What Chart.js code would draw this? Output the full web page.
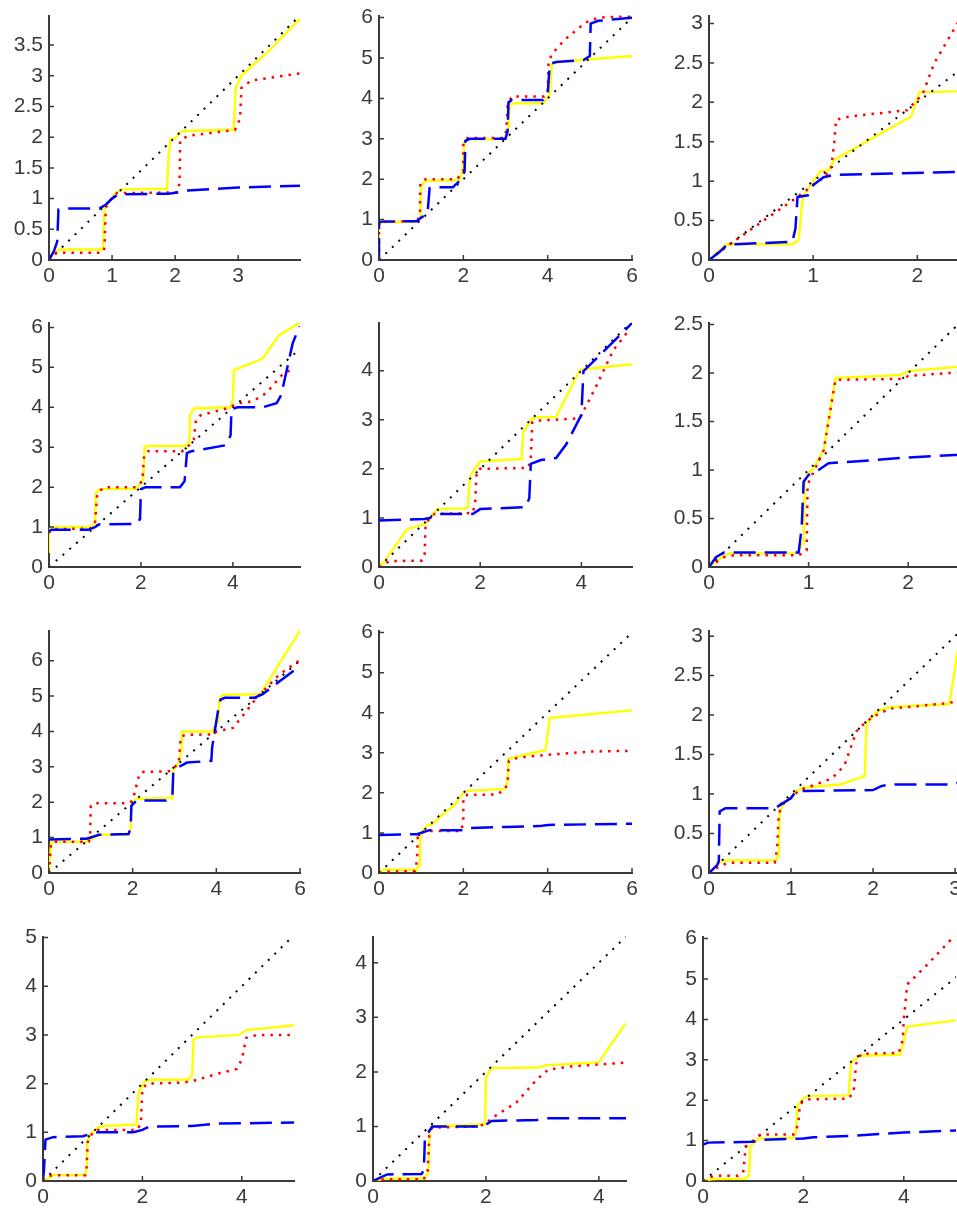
<!DOCTYPE html>
<html>
<head>
<meta charset="utf-8">
<script src="https://cdn.jsdelivr.net/npm/chart.js@4/dist/chart.umd.min.js"></script>
<style>
  html, body { margin: 0; padding: 0; background: #fff; overflow: hidden; width: 957px; height: 1209px; position: relative; }
  canvas { position: absolute; }
</style>
</head>
<body>
<script>
// 4x3 grid of small step curves: yellow solid, red dotted, blue dashed, black dotted y=x

// axis limits and ticks, panel order row by row
const xMax = [3.98, 6, 2.41, 5.46, 5.0, 2.52, 6, 6, 3.06, 5.05, 4.48, 5.04];
const yMax = [3.98, 6.05, 3.1, 6.12, 4.98, 2.52, 6.85, 6.05, 3.07, 5.02, 4.48, 6.05];
const xTicks = [
  [0, 1, 2, 3], [0, 2, 4, 6], [0, 1, 2],
  [0, 2, 4], [0, 2, 4], [0, 1, 2],
  [0, 2, 4, 6], [0, 2, 4, 6], [0, 1, 2, 3],
  [0, 2, 4], [0, 2, 4], [0, 2, 4]
];
const yTicks = [
  [0, 0.5, 1, 1.5, 2, 2.5, 3, 3.5], [0, 1, 2, 3, 4, 5, 6], [0, 0.5, 1, 1.5, 2, 2.5, 3],
  [0, 1, 2, 3, 4, 5, 6], [0, 1, 2, 3, 4], [0, 0.5, 1, 1.5, 2, 2.5],
  [0, 1, 2, 3, 4, 5, 6], [0, 1, 2, 3, 4, 5, 6], [0, 0.5, 1, 1.5, 2, 2.5, 3],
  [0, 1, 2, 3, 4, 5], [0, 1, 2, 3, 4], [0, 1, 2, 3, 4, 5, 6]
];
const diagEnd = [3.98, 6, 3, 5.4, 4.97, 2.55, 6, 6, 3.06, 5.05, 4.48, 5.06];

// panel 1
const p1Yellow = [[0,0],[0.1,0.15],[0.2,0.17],[0.82,0.17],[0.86,0.22],[0.88,0.84],[0.95,0.95],[1.05,1.08],[1.15,1.15],[1.87,1.16],[1.9,1.75],[1.93,1.97],[2.0,1.98],[2.08,2.08],[2.15,2.1],[2.93,2.12],[2.96,2.8],[3.05,3.0],[3.5,3.42],[3.98,3.93]];
const p1Red = [[0,0],[0.08,0.1],[0.15,0.12],[0.85,0.12],[0.88,0.2],[0.9,0.85],[1.0,1.02],[1.08,1.09],[2.03,1.1],[2.07,1.25],[2.08,1.95],[2.2,2.02],[2.95,2.12],[3.03,2.3],[3.05,2.8],[3.2,2.92],[3.98,3.04]];
const p1Blue = [[0,0],[0.08,0.15],[0.13,0.3],[0.15,0.82],[0.25,0.84],[0.8,0.84],[0.9,0.9],[1.0,1.0],[1.1,1.07],[1.9,1.08],[2.2,1.13],[3.0,1.18],[3.98,1.21]];
// panel 2
const p2Yellow = [[0,0],[0,0.85],[0.05,0.93],[0.9,0.95],[0.98,1.05],[1.0,1.85],[1.1,1.96],[1.9,1.98],[1.98,2.2],[2.03,2.95],[2.1,2.98],[3.0,3.0],[3.07,3.2],[3.1,3.85],[3.2,3.88],[3.9,3.88],[4.05,4.1],[4.1,4.85],[4.2,4.9],[5.0,4.97],[6.0,5.05]];
const p2Red = [[0,0],[0,0.9],[0.05,0.95],[0.9,0.96],[0.97,1.1],[0.98,1.9],[1.1,2.0],[1.85,2.0],[2.0,2.2],[2.0,2.9],[2.1,3.02],[2.95,3.02],[3.02,3.2],[3.05,3.85],[3.15,4.05],[3.92,4.05],[4.0,4.15],[4.02,4.9],[4.1,5.1],[4.4,5.45],[4.9,5.88],[5.2,6.0],[6.0,6.05]];
const p2Blue = [[0,0],[0,0.92],[0.05,0.95],[0.9,0.96],[1.0,1.05],[1.15,1.15],[1.17,1.4],[1.2,1.78],[1.3,1.8],[1.75,1.8],[1.95,2.0],[2.03,2.2],[2.05,2.95],[2.15,3.0],[3.0,3.0],[3.05,3.2],[3.07,3.9],[3.15,3.96],[3.9,3.96],[4.0,4.1],[4.05,4.85],[4.2,4.9],[4.85,4.95],[5.0,5.05],[5.02,5.85],[5.2,5.92],[6.0,6.0]];
// panel 3
const p3Yellow = [[0,0],[0.1,0.12],[0.17,0.2],[0.8,0.2],[0.86,0.25],[0.9,0.8],[1.0,1.0],[1.07,1.13],[1.15,1.14],[1.2,1.27],[1.94,1.82],[2.02,2.13],[2.45,2.14]];
const p3Red = [[0,0],[0.2,0.2],[0.85,0.8],[1.0,0.95],[1.1,1.05],[1.17,1.15],[1.2,1.45],[1.22,1.78],[1.35,1.82],[1.9,1.9],[2.05,2.1],[2.16,2.49],[2.42,3.08]];
const p3Blue = [[0,0],[0.1,0.1],[0.17,0.19],[0.25,0.2],[0.8,0.23],[0.83,0.4],[0.85,0.8],[0.95,0.82],[1.0,0.95],[1.1,1.05],[1.2,1.08],[2.45,1.12]];
// panel 4
const p4Yellow = [[0,0.35],[0,0.95],[0.05,1.0],[0.9,1.0],[1.0,1.1],[1.02,1.85],[1.1,1.95],[1.9,1.96],[2.05,2.2],[2.08,3.0],[2.15,3.03],[2.95,3.03],[3.05,3.1],[3.07,3.8],[3.15,3.97],[3.95,4.0],[4.0,4.2],[4.02,4.93],[4.65,5.22],[5.0,5.8],[5.45,6.12]];
const p4Red = [[0,0.85],[0.05,0.95],[0.9,0.96],[1.0,1.1],[1.05,1.85],[1.2,2.0],[1.9,2.0],[2.03,2.15],[2.07,2.8],[2.15,2.9],[2.9,2.9],[3.05,3.05],[3.15,3.2],[3.2,3.7],[3.3,3.8],[3.9,3.98],[4.1,4.1],[4.43,4.15],[4.72,4.35],[5.1,4.85],[5.35,4.98]];
const p4Blue = [[0,0.9],[0.05,0.93],[0.85,0.93],[1.0,1.0],[1.1,1.07],[1.9,1.08],[1.98,1.2],[2.0,1.95],[2.1,2.0],[2.85,2.0],[2.95,2.15],[3.0,2.85],[3.1,2.9],[3.85,3.05],[3.95,3.3],[3.97,3.95],[4.1,4.0],[4.65,4.0],[4.95,4.1],[5.05,4.3],[5.3,5.6],[5.45,6.03]];
// panel 5
const p5Yellow = [[0,0],[0.1,0.1],[0.55,0.77],[0.9,0.87],[1.15,1.18],[1.75,1.2],[1.8,1.85],[1.85,1.93],[2.0,2.15],[2.82,2.2],[2.85,2.75],[3.0,3.0],[3.1,3.05],[3.5,3.06],[3.96,4.0],[4.05,4.03],[5.0,4.13]];
const p5Red = [[0,0],[0.1,0.05],[0.2,0.12],[0.85,0.13],[0.9,0.25],[0.92,0.85],[1.0,1.0],[1.1,1.08],[1.85,1.1],[1.9,1.3],[1.93,1.95],[2.0,2.0],[2.95,2.02],[3.0,2.2],[3.03,2.95],[3.1,2.98],[3.97,3.03],[4.3,3.7],[4.63,4.42],[4.96,4.85]];
const p5Blue = [[0,0.95],[0.9,0.98],[1.0,1.0],[1.2,1.08],[1.85,1.08],[2.0,1.18],[2.9,1.22],[2.97,1.4],[3.0,2.1],[3.2,2.18],[3.5,2.22],[3.7,2.5],[3.9,2.9],[4.0,3.1],[4.04,3.99],[4.3,4.25],[5.0,4.97]];
// panel 6
const p6Yellow = [[0,0],[0.1,0.08],[0.2,0.14],[0.88,0.14],[0.95,0.25],[0.96,0.88],[1.0,0.97],[1.05,1.02],[1.15,1.2],[1.27,1.95],[1.92,1.98],[2.0,2.02],[2.55,2.07]];
const p6Red = [[0,0],[0.15,0.1],[0.25,0.12],[0.9,0.12],[0.98,0.17],[0.99,0.85],[1.05,0.98],[1.15,1.2],[1.27,1.93],[1.95,1.94],[2.0,1.97],[2.55,2.01]];
const p6Blue = [[0,0],[0.07,0.1],[0.15,0.15],[0.9,0.15],[0.93,0.4],[0.95,0.88],[1.0,0.95],[1.1,1.0],[1.2,1.07],[1.5,1.09],[2.0,1.13],[2.55,1.16]];
// panel 7
const p7Yellow = [[0,0],[0.05,0.85],[0.1,0.88],[0.9,0.88],[1.0,0.95],[1.2,1.08],[1.9,1.08],[1.95,1.25],[1.97,1.95],[2.1,2.1],[2.95,2.12],[2.97,2.9],[3.1,3.1],[3.17,3.5],[3.18,4.0],[3.9,4.0],[4.05,4.3],[4.07,4.9],[4.15,5.03],[5.05,5.05],[5.1,5.15],[6.0,6.85]];
const p7Red = [[0,0],[0.05,0.85],[0.1,0.88],[0.95,0.88],[0.98,1.0],[1.0,1.9],[1.1,1.97],[1.9,1.97],[2.0,2.05],[2.15,2.75],[2.2,2.85],[2.9,2.88],[3.1,3.1],[3.15,3.85],[3.25,3.9],[3.95,3.92],[4.0,4.0],[4.4,4.1],[5.0,5.0],[5.5,5.6],[6.0,6.02]];
const p7Blue = [[0,0.95],[0.9,0.97],[1.2,1.08],[1.9,1.1],[1.95,1.25],[1.97,1.9],[2.1,2.05],[2.8,2.05],[2.95,2.15],[2.97,2.85],[3.1,3.0],[3.3,3.12],[3.88,3.17],[3.9,3.55],[4.05,4.65],[4.1,4.9],[4.2,4.95],[4.9,4.95],[5.1,5.05],[6.0,5.85]];
// panel 8
const p8Yellow = [[0,0],[0.1,0.08],[0.9,0.08],[0.95,0.2],[0.97,0.8],[1.0,1.0],[1.15,1.2],[1.25,1.2],[1.5,1.45],[1.8,1.7],[2.0,2.0],[2.1,2.05],[3.0,2.1],[3.05,2.3],[3.07,2.85],[3.95,3.07],[4.05,3.87],[6.0,4.06]];
const p8Red = [[0,0],[0.1,0.03],[0.85,0.05],[0.9,0.3],[0.92,0.9],[1.0,1.0],[1.1,1.05],[1.95,1.05],[2.0,1.3],[2.0,1.9],[2.1,1.95],[2.8,1.96],[3.0,2.1],[3.05,2.3],[3.08,2.8],[3.3,2.88],[4.0,2.95],[5.0,3.03],[6.0,3.05]];
const p8Blue = [[0,0.95],[0.9,0.97],[1.2,1.07],[1.95,1.07],[2.1,1.12],[3.0,1.15],[3.8,1.17],[4.0,1.2],[6.0,1.23]];
// panel 9
const p9Yellow = [[0,0],[0.1,0.1],[0.15,0.15],[0.2,0.16],[0.82,0.16],[0.85,0.25],[0.86,0.75],[0.9,0.87],[1.0,0.95],[1.05,1.03],[1.15,1.08],[1.6,1.12],[1.9,1.23],[1.92,1.9],[1.95,1.92],[2.05,2.05],[2.2,2.1],[2.93,2.14],[2.97,2.4],[3.06,3.0]];
const p9Red = [[0,0],[0.15,0.1],[0.25,0.13],[0.8,0.13],[0.83,0.3],[0.85,0.75],[0.9,0.87],[1.0,0.95],[1.1,1.05],[1.3,1.12],[1.5,1.2],[1.65,1.36],[1.8,1.8],[1.9,1.9],[2.0,1.98],[2.2,2.08],[2.9,2.15],[3.06,2.18]];
const p9Blue = [[0,0],[0.1,0.1],[0.12,0.15],[0.13,0.78],[0.2,0.82],[0.8,0.82],[0.85,0.85],[1.0,0.95],[1.05,1.02],[1.15,1.04],[2.0,1.05],[2.1,1.1],[2.2,1.12],[2.95,1.12],[3.06,1.15]];
// panel 10
const p10Yellow = [[0,0],[0.1,0.05],[0.2,0.12],[0.85,0.12],[0.88,0.3],[0.89,0.79],[0.95,0.95],[1.1,1.1],[1.2,1.13],[1.88,1.16],[1.92,1.8],[2.05,2.05],[2.2,2.08],[2.92,2.08],[3.0,2.17],[3.03,2.9],[3.1,2.95],[3.94,3.0],[4.1,3.1],[5.05,3.2]];
const p10Red = [[0,0],[0.1,0.1],[0.2,0.12],[0.85,0.12],[0.88,0.3],[0.9,0.8],[1.0,1.0],[1.1,1.05],[1.9,1.05],[1.97,1.2],[2.0,1.9],[2.1,2.0],[2.8,2.02],[3.0,2.05],[3.5,2.2],[3.9,2.3],[4.0,2.5],[4.09,2.94],[4.3,3.0],[5.0,3.0]];
const p10Blue = [[0,0],[0.02,0.25],[0.03,0.45],[0.05,0.85],[0.2,0.9],[0.8,0.92],[1.0,0.98],[1.1,1.0],[1.82,1.0],[2.0,1.05],[2.15,1.12],[3.0,1.13],[3.5,1.18],[5.05,1.2]];
// panel 11
const p11Yellow = [[0,0],[0.2,0.04],[0.9,0.05],[0.98,0.15],[1.0,0.9],[1.05,1.0],[1.98,1.04],[2.0,1.9],[2.1,2.07],[2.95,2.08],[3.05,2.12],[4.0,2.18],[4.47,2.89]];
const p11Red = [[0,0],[0.2,0.03],[0.9,0.03],[0.97,0.2],[1.0,0.9],[1.05,0.98],[1.85,1.0],[2.0,1.05],[2.1,1.15],[2.54,1.44],[2.89,1.85],[3.1,2.04],[3.5,2.1],[4.48,2.17]];
const p11Blue = [[0,0],[0.1,0.05],[0.25,0.12],[0.86,0.13],[0.9,0.2],[0.92,0.8],[1.05,1.0],[1.95,1.0],[2.1,1.1],[2.9,1.12],[3.1,1.15],[4.48,1.15]];
// panel 12
const p12Yellow = [[0,0],[0.2,0.05],[0.85,0.06],[0.92,0.15],[0.94,0.85],[1.1,1.05],[1.8,1.07],[1.85,1.2],[1.88,1.85],[2.0,2.05],[2.1,2.1],[2.9,2.12],[2.95,2.95],[3.15,3.1],[3.93,3.13],[4.07,3.82],[5.06,3.98]];
const p12Red = [[0,0],[0.15,0.1],[0.25,0.13],[0.7,0.13],[0.8,0.2],[0.85,0.85],[1.0,1.0],[1.15,1.15],[1.8,1.15],[1.9,1.4],[1.93,1.9],[2.0,1.97],[2.1,2.02],[2.9,2.04],[3.0,2.2],[3.05,2.9],[3.15,3.15],[3.9,3.17],[3.98,3.5],[4.0,4.0],[4.07,4.87],[4.4,5.27],[4.96,6.0],[5.06,6.1]];
const p12Blue = [[0,0.9],[0.1,0.95],[1.0,0.97],[1.2,1.02],[2.0,1.05],[2.2,1.08],[3.0,1.12],[4.0,1.2],[5.06,1.25]];

const yellowSets = [p1Yellow, p2Yellow, p3Yellow, p4Yellow, p5Yellow, p6Yellow, p7Yellow, p8Yellow, p9Yellow, p10Yellow, p11Yellow, p12Yellow];
const redSets = [p1Red, p2Red, p3Red, p4Red, p5Red, p6Red, p7Red, p8Red, p9Red, p10Red, p11Red, p12Red];
const blueSets = [p1Blue, p2Blue, p3Blue, p4Blue, p5Blue, p6Blue, p7Blue, p8Blue, p9Blue, p10Blue, p11Blue, p12Blue];

// plot-area boxes in page pixels
const rowBox = [[9, 260], [316, 567], [624, 873], [930, 1181]];
const colBox = [[49, 300], [379, 632], [709, 960]];
const colBoxLast = [[43, 294], [373, 626], [703, 956]];

const axisColor = '#3a3a3a';
const tickFont = { family: "'Liberation Sans', Arial, sans-serif", size: 21 };

// matlab style ticks pointing into the plot
const inwardTicks = {
  id: 'inwardTicks',
  afterDraw(chart) {
    const { ctx, chartArea: a, scales: { x, y } } = chart;
    ctx.save();
    ctx.strokeStyle = axisColor;
    ctx.lineWidth = 1.5;
    ctx.beginPath();
    x.ticks.forEach(t => {
      const px = x.getPixelForValue(t.value);
      ctx.moveTo(px, a.bottom);
      ctx.lineTo(px, a.bottom - 5);
    });
    y.ticks.forEach(t => {
      const py = y.getPixelForValue(t.value);
      ctx.moveTo(a.left, py);
      ctx.lineTo(a.left + 5, py);
    });
    ctx.stroke();
    ctx.restore();
  }
};

const toXY = arr => arr.map(([x, y]) => ({ x, y }));

function makePanel(i) {
  const [top, bottom] = rowBox[Math.floor(i / 3)];
  const [left, right] = (i >= 9 ? colBoxLast : colBox)[i % 3];
  const yW = 50, xH = 36, padT = 12, padR = 16;
  const cv = document.createElement('canvas');
  const w = yW + (right - left) + padR;
  const h = padT + (bottom - top) + xH;
  cv.width = w; cv.height = h;
  cv.style.width = w + 'px'; cv.style.height = h + 'px';
  cv.style.left = (left - yW) + 'px';
  cv.style.top = (top - padT) + 'px';
  document.body.appendChild(cv);

  const line = { pointRadius: 0, showLine: true, fill: false, tension: 0 };
  new Chart(cv, {
    type: 'scatter',
    data: {
      datasets: [
        { ...line, data: toXY(blueSets[i]), borderColor: '#0000ff', borderWidth: 2.5, borderDash: [22, 9] },
        { ...line, data: toXY(redSets[i]), borderColor: '#ff0000', borderWidth: 2.5, borderDash: [2.5, 6] },
        { ...line, data: toXY([[0, 0], [diagEnd[i], diagEnd[i]]]), borderColor: '#000000', borderWidth: 2, borderDash: [2, 7] },
        { ...line, data: toXY(yellowSets[i]), borderColor: '#ffff00', borderWidth: 2.4 }
      ]
    },
    options: {
      responsive: false,
      animation: false,
      devicePixelRatio: 1,
      events: [],
      layout: { padding: { top: padT, right: padR, left: 0, bottom: 0 } },
      plugins: { legend: { display: false }, tooltip: { enabled: false } },
      scales: {
        x: {
          type: 'linear', min: 0, max: xMax[i],
          grid: { display: false, drawTicks: false },
          border: { display: true, color: axisColor, width: 2 },
          ticks: { color: axisColor, font: tickFont, padding: 4, maxRotation: 0, autoSkip: false, callback: v => String(v) },
          afterBuildTicks: s => { s.ticks = xTicks[i].map(v => ({ value: v })); },
          afterFit: s => { s.height = xH; }
        },
        y: {
          type: 'linear', min: 0, max: yMax[i],
          grid: { display: false, drawTicks: false },
          border: { display: true, color: axisColor, width: 2 },
          ticks: { color: axisColor, font: tickFont, padding: 6, autoSkip: false, callback: v => String(v) },
          afterBuildTicks: s => { s.ticks = yTicks[i].map(v => ({ value: v })); },
          afterFit: s => { s.width = yW; }
        }
      }
    },
    plugins: [inwardTicks]
  });
}

for (let i = 0; i < 12; i++) makePanel(i);
</script>
</body>
</html>
